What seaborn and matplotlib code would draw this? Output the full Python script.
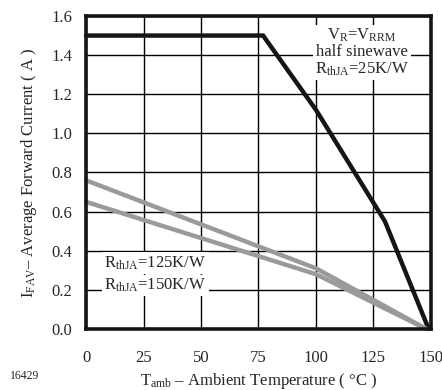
import matplotlib
matplotlib.use("Agg")
import matplotlib.pyplot as plt
import pandas as pd
import seaborn as sns

# derating curves
t_25 = [0, 77, 100, 130, 149]
i_25 = [1.5, 1.5, 1.12, 0.55, 0.0]
t_125 = [0, 100, 148]
i_125 = [0.76, 0.31, 0.0]
t_150 = [0, 100, 148]
i_150 = [0.65, 0.28, 0.0]

x_ticks = [0, 25, 50, 75, 100, 125, 150]
y_ticks = [0.0, 0.2, 0.4, 0.6, 0.8, 1.0, 1.2, 1.4, 1.6]

df = pd.concat([
    pd.DataFrame({"T": t_25, "I": i_25, "R": "25"}),
    pd.DataFrame({"T": t_125, "I": i_125, "R": "125"}),
    pd.DataFrame({"T": t_150, "I": i_150, "R": "150"}),
])

sns.set_style("white")
plt.rcParams["font.family"] = ["Liberation Serif", "DejaVu Serif"]
plt.rcParams["mathtext.fontset"] = "custom"
plt.rcParams["mathtext.rm"] = "Liberation Serif"
plt.rcParams["mathtext.it"] = "Liberation Serif"

fs = 12

fig = plt.figure(figsize=(4.42, 3.90), dpi=100)
ax = fig.add_axes([0.1946, 0.1564, 0.7804, 0.8026])

sns.lineplot(data=df, x="T", y="I", hue="R", units="R", estimator=None,
             palette={"25": "#151515", "125": "#9a9a9a", "150": "#9a9a9a"},
             linewidth=3.2, legend=False, ax=ax, zorder=3, sort=False)
for ln in ax.lines:
    ln.set_clip_on(False)
    ln.set_solid_joinstyle("miter")

ax.set_xlim(0, 150)
ax.set_ylim(0, 1.6)
ax.set_xticks(x_ticks)
ax.set_yticks(y_ticks)
ax.set_xticklabels([str(v) for v in x_ticks])
ax.set_yticklabels([f"{v:.1f}" for v in y_ticks])
ax.grid(True, color="black", linewidth=1.0)
ax.set_axisbelow(True)
ax.tick_params(axis="x", length=0, pad=15, labelsize=fs)
ax.tick_params(axis="y", length=0, pad=10, labelsize=fs)
for s in ax.spines.values():
    s.set_color("#151515")
    s.set_linewidth(2.6)
    s.set_zorder(4)

ax.set_xlabel(r"T$_{\rm amb}$ – Ambient Temperature ( °C )", fontsize=fs, labelpad=4)
ax.set_ylabel(r"I$_{\rm FAV}$– Average Forward Current ( A )", fontsize=fs, labelpad=9)

box = dict(facecolor="white", edgecolor="none", pad=1.5)
ax.text(120, 1.545, "V$_{\\rm R}$=V$_{\\rm RRM}$\nhalf sinewave\nR$_{\\rm thJA}$=25K/W",
        ha="center", va="top", fontsize=fs, linespacing=1.0, bbox=box, zorder=5)
ax.text(8, 0.337, "R$_{\\rm thJA}$=125K/W", ha="left", va="center", fontsize=fs, bbox=box, zorder=5)
ax.text(8, 0.222, "R$_{\\rm thJA}$=150K/W", ha="left", va="center", fontsize=fs, bbox=box, zorder=5)

fig.text(0.055, 0.02, "16429", ha="center", va="bottom", fontsize=8.5)

fig.savefig("out.png", dpi=100)
